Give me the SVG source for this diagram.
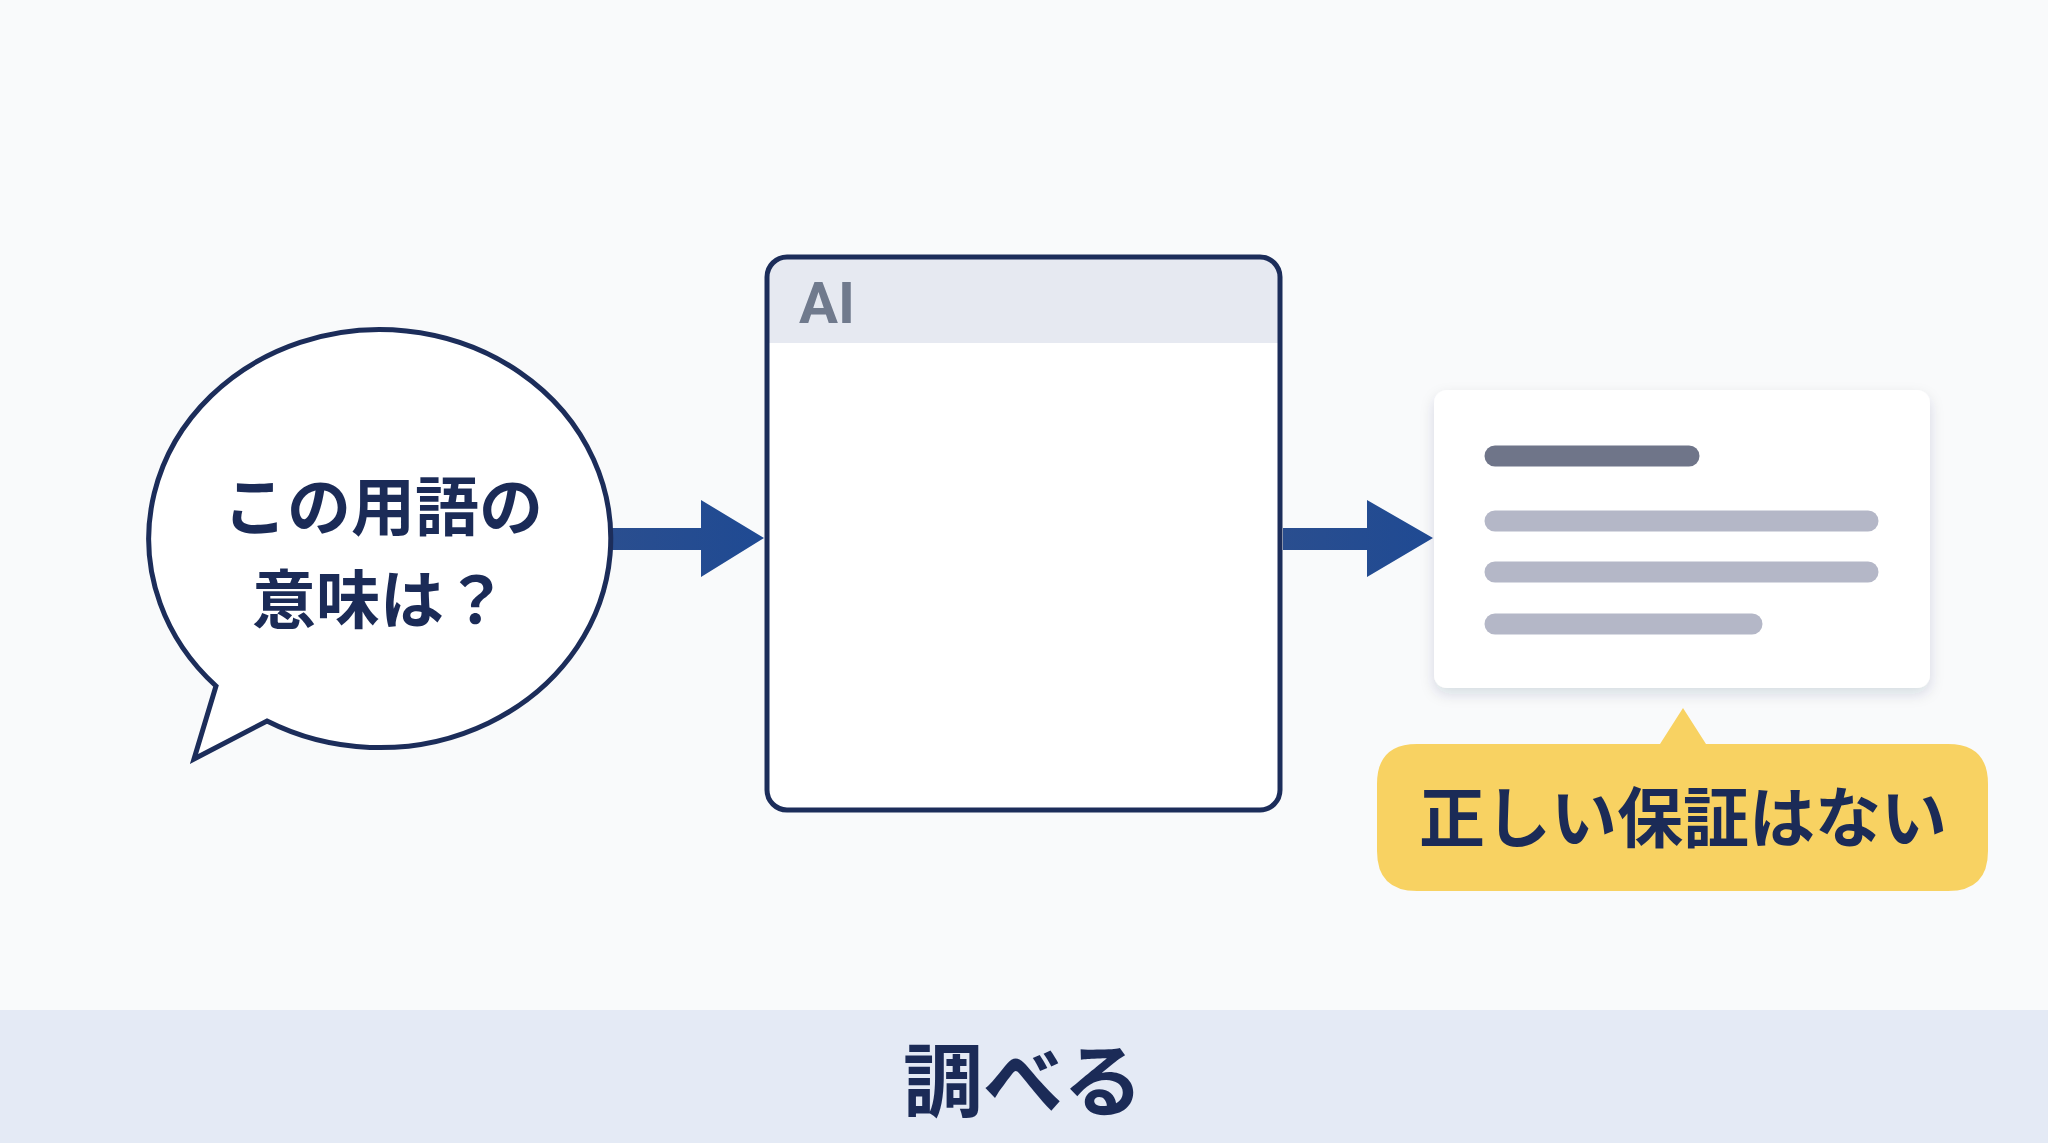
<svg xmlns="http://www.w3.org/2000/svg" width="2048" height="1143" viewBox="0 0 2048 1143">
<defs>
<style>
.jp{font-family:"Noto Sans CJK JP","Noto Sans",sans-serif;font-weight:700;fill:#1b2b57}
.bar{stroke-linecap:round;stroke-width:21}
</style>
<filter id="sh" x="-10%" y="-10%" width="120%" height="130%">
<feDropShadow dx="0" dy="6" stdDeviation="7" flood-color="#1b2b57" flood-opacity="0.14"/>
</filter>
<linearGradient id="ag" x1="0" y1="0" x2="1" y2="0">
<stop offset="0" stop-color="#2a4e8f"/>
<stop offset="1" stop-color="#1f4a93"/>
</linearGradient>
<clipPath id="boxclip"><rect x="767" y="257" width="513" height="553" rx="20"/></clipPath>
</defs>
<rect width="2048" height="1143" fill="#f9fafb"/>
<g id="connectors">
<polygon points="612,528 701,528 701,500 764,538 701,577 701,550 612,550" fill="url(#ag)"/>
<polygon points="1283,528 1367,528 1367,500 1433,538 1367,577 1367,550 1283,550" fill="url(#ag)"/>
</g>
<g id="question">
<path d="M 267 721 A 231 209 0 1 0 216 686 L 194 759 Z" fill="#ffffff" stroke="#1c2d5a" stroke-width="5" stroke-linejoin="miter"/>
<text class="jp" x="383" y="530" font-size="64" text-anchor="middle">この用語の</text>
<text class="jp" x="380" y="623" font-size="64" text-anchor="middle">意味は？</text>
</g>
<g id="ai">
<rect x="767" y="257" width="513" height="553" rx="20" fill="#ffffff"/>
<rect x="767" y="257" width="513" height="86" fill="#e6e9f1" clip-path="url(#boxclip)"/>
<rect x="767" y="257" width="513" height="553" rx="20" fill="none" stroke="#1c2d5a" stroke-width="5"/>
<text x="799" y="323" font-family="Roboto,'Liberation Sans',sans-serif" font-weight="700" font-size="58" fill="#707a8d">AI</text>
</g>
<g id="answer">
<rect x="1434" y="390" width="496" height="298" rx="13" fill="#ffffff" filter="url(#sh)"/>
<line class="bar" x1="1495" y1="456" x2="1689" y2="456" stroke="#6f7589"/>
<line class="bar" x1="1495" y1="521" x2="1868" y2="521" stroke="#b4b7c7"/>
<line class="bar" x1="1495" y1="572" x2="1868" y2="572" stroke="#b4b7c7"/>
<line class="bar" x1="1495" y1="624" x2="1752" y2="624" stroke="#b4b7c7"/>
</g>
<g id="warning">
<path d="M 1417 744 L 1660 744 L 1683 708 L 1706 744 L 1948 744 Q 1988 744 1988 784 L 1988 851 Q 1988 891 1948 891 L 1417 891 Q 1377 891 1377 851 L 1377 784 Q 1377 744 1417 744 Z" fill="#f8d262"/>
<text class="jp" x="1683" y="842" font-size="66" text-anchor="middle">正しい保証はない</text>
</g>
<g id="footer">
<rect x="0" y="1010" width="2048" height="133" fill="#e4eaf5"/>
<text class="jp" x="1023" y="1110" font-size="80" text-anchor="middle">調べる</text>
</g>
</svg>
